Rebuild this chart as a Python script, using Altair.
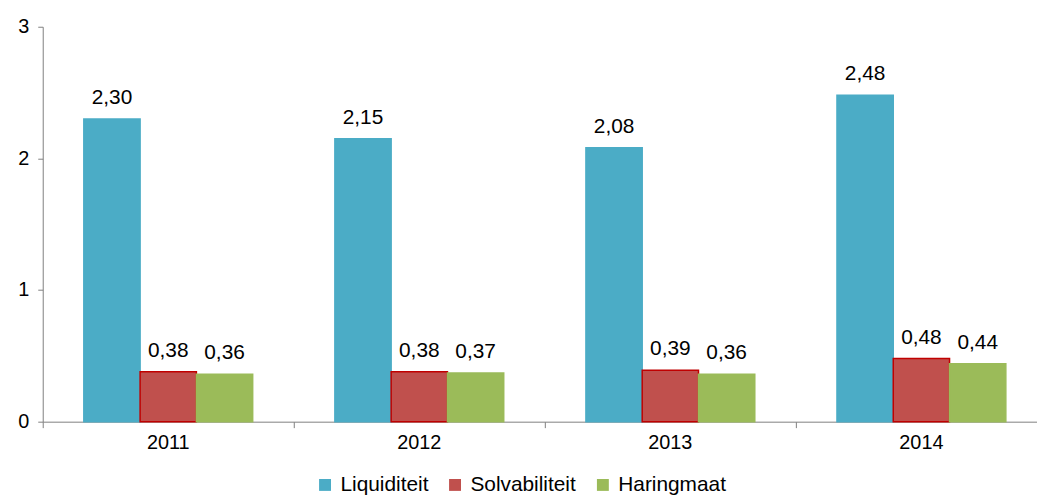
import altair as alt
import pandas as pd

years = ["2011", "2012", "2013", "2014"]
series = ["Liquiditeit", "Solvabiliteit", "Haringmaat"]
liquiditeit = [2.30, 2.15, 2.08, 2.48]
solvabiliteit = [0.38, 0.38, 0.39, 0.48]
haringmaat = [0.36, 0.37, 0.36, 0.44]
colors = ["#4BACC6", "#C0504D", "#9BBB59"]
strokes = ["#4BACC6", "#C00000", "#9BBB59"]

rows = []
for i, y in enumerate(years):
    for s, vals in zip(series, [liquiditeit, solvabiliteit, haringmaat]):
        rows.append({"jaar": y, "reeks": s, "waarde": vals[i]})
df = pd.DataFrame(rows)

font = "Liberation Sans"
axis_col = "#7F7F7F"

base = alt.Chart(df).encode(
    x=alt.X("jaar:N", sort=years, title=None,
            scale=alt.Scale(paddingInner=0, paddingOuter=0, range=[0, 1012]),
            axis=alt.Axis(labelAngle=0, bandPosition=0, labelFontSize=20,
                          labelColor="#000", labelFont=font, domainColor=axis_col,
                          tickColor=axis_col, tickSize=6, labelPadding=5,
                          labelBound=False, labelOverlap=False)),
    xOffset=alt.XOffset("reeks:N", sort=series,
                        scale=alt.Scale(paddingOuter=0.73, paddingInner=0)),
)

bars = base.mark_bar(strokeWidth=1.5).encode(
    y=alt.Y("waarde:Q", title=None,
            scale=alt.Scale(domain=[0, 3], nice=False),
            axis=alt.Axis(values=[0, 1, 2, 3], format="d", grid=False, labelFontSize=20,
                          labelColor="#000", labelFont=font, domainColor=axis_col,
                          tickColor=axis_col, tickSize=5, labelPadding=9)),
    color=alt.Color("reeks:N", sort=series,
                    scale=alt.Scale(domain=series, range=colors),
                    legend=alt.Legend(orient="none", legendX=274, legendY=451,
                                      direction="horizontal", title=None,
                                      symbolType="square", symbolSize=144,
                                      symbolStrokeWidth=0, labelFontSize=21,
                                      labelFont=font, labelColor="#000",
                                      labelOffset=5, columnPadding=16)),
    stroke=alt.Stroke("reeks:N", sort=series,
                      scale=alt.Scale(domain=series, range=strokes), legend=None),
)

labels = base.mark_text(baseline="alphabetic", dy=-15, fontSize=21, font=font, color="#000").encode(
    y=alt.Y("waarde:Q", scale=alt.Scale(domain=[0, 3], nice=False)),
    text=alt.Text("label:N"),
).transform_calculate(
    label="replace(format(datum.waarde, '.2f'), '.', ',')"
)

chart = (bars + labels).properties(
    width=997, height=398,
    padding={"left": 35, "top": 17, "right": 5, "bottom": 72},
    autosize=alt.AutoSizeParams(type="none"),
).configure_view(stroke=None)

chart.save("out.html", embed_options={"renderer": "svg", "actions": False})
